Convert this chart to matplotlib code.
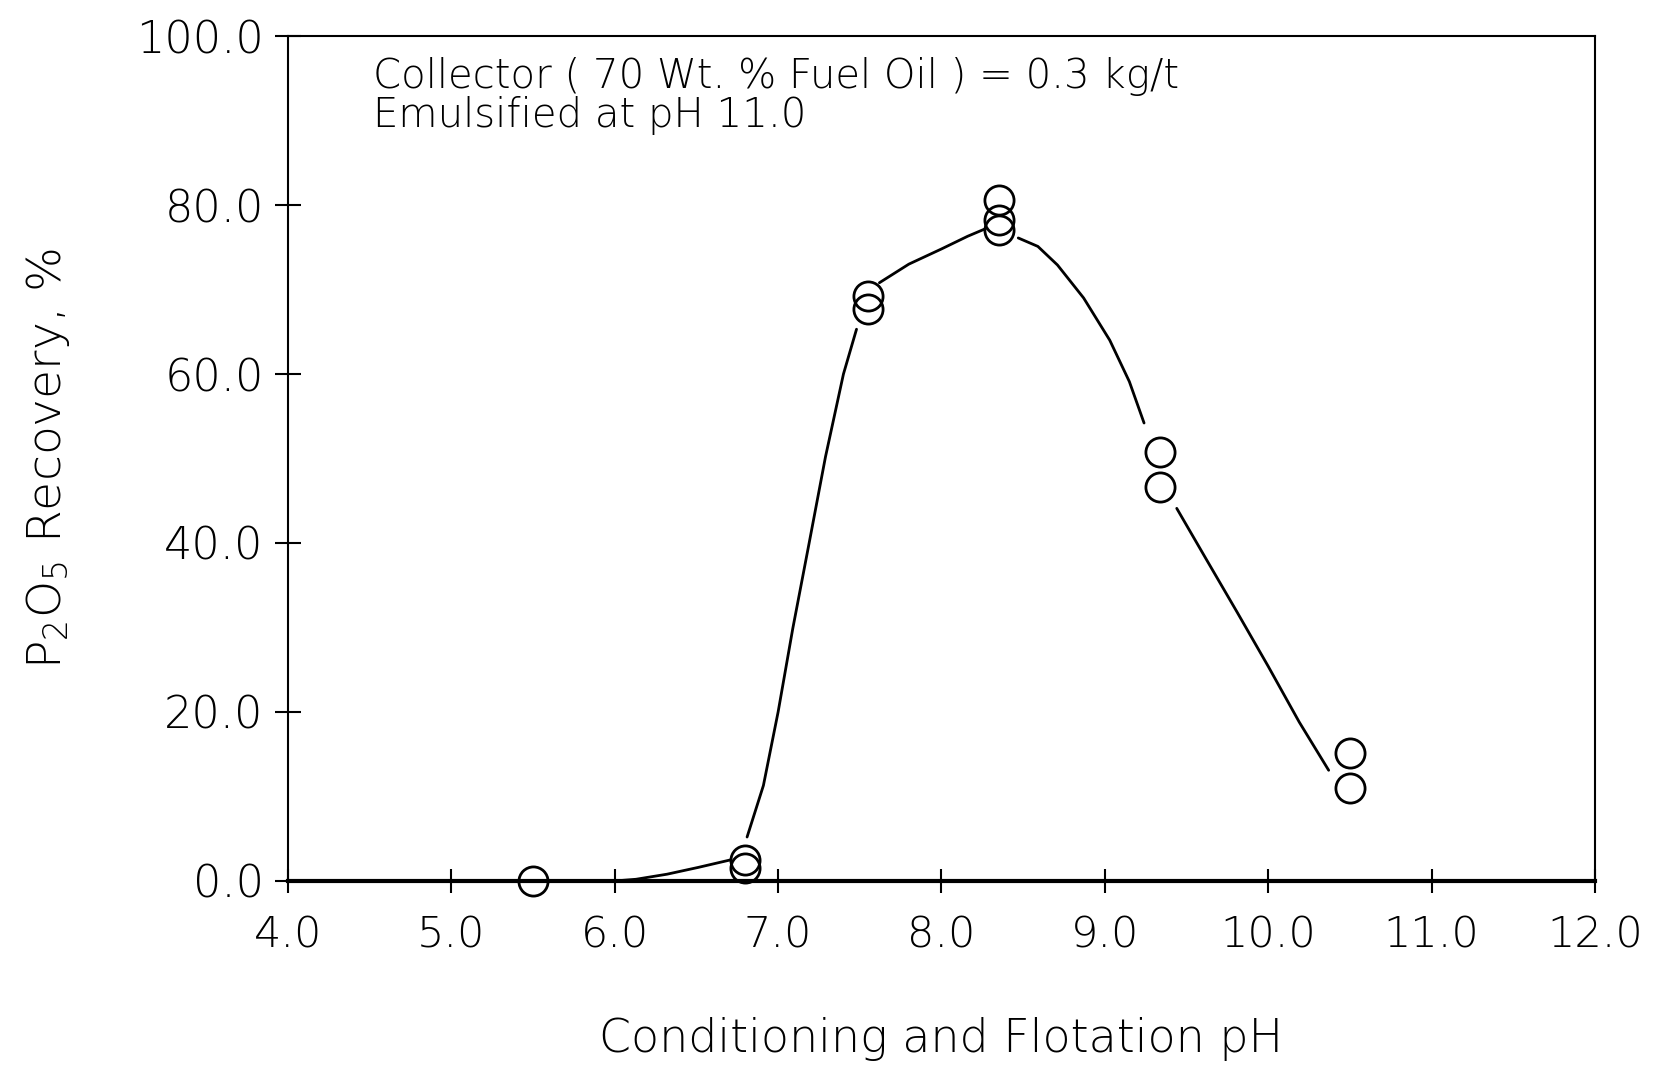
import numpy as np
import matplotlib
matplotlib.use("Agg")
import matplotlib.pyplot as plt

# ---- data ----
ph_points = [5.5, 6.8, 6.8, 7.55, 7.55, 8.35, 8.35, 8.35, 9.34, 9.34, 10.5, 10.5]
recovery_points = [0.0, 2.5, 1.5, 69.2, 67.7, 80.6, 78.2, 77.0, 50.8, 46.6, 15.2, 11.0]

# hand-drawn smooth curve (segments separated by NaN where it breaks at markers)
curve_ph = [6.0, 6.13, 6.32, 6.51, 6.71, np.nan,
            6.81, 6.91, 7.00, 7.09, 7.19, 7.29, 7.40, 7.48, np.nan,
            7.62, 7.80, 8.00, 8.16, 8.27, np.nan,
            8.47, 8.59, 8.71, 8.87, 9.03, 9.15, 9.24, np.nan,
            9.44, 9.62, 9.81, 10.00, 10.19, 10.37]
curve_rec = [0.0, 0.2, 0.8, 1.6, 2.5, np.nan,
             5.2, 11.3, 20.0, 29.9, 40.0, 50.2, 60.0, 65.3, np.nan,
             70.8, 73.0, 74.8, 76.3, 77.2, np.nan,
             76.1, 75.1, 72.9, 69.0, 64.0, 59.1, 54.2, np.nan,
             44.1, 38.1, 31.8, 25.4, 18.8, 13.1]

x_ticks = [4.0, 5.0, 6.0, 7.0, 8.0, 9.0, 10.0, 11.0, 12.0]
y_ticks = [0.0, 20.0, 40.0, 60.0, 80.0, 100.0]

note_lines = ["Collector ( 70 Wt. % Fuel Oil ) = 0.3 kg/t", "Emulsified at pH 11.0"]
x_label = "Conditioning and Flotation pH"
y_label = r"$\mathregular{P_2O_5}$ Recovery, %"

plt.rcParams['font.family'] = ['DejaVu Sans']
plt.rcParams['font.weight'] = 'light'
plt.rcParams['axes.labelweight'] = 'light'
plt.rcParams['mathtext.fontset'] = 'custom'
plt.rcParams['mathtext.rm'] = 'DejaVu Sans:light'

fig = plt.figure(figsize=(16.59, 10.69), dpi=100)
ax = fig.add_axes([0.1736, 0.1759, 0.9614 - 0.1736, 0.9663 - 0.1759])

ax.plot(curve_ph, curve_rec, color='black', lw=2.0, solid_capstyle='round',
        solid_joinstyle='round')
ax.plot(ph_points, recovery_points, linestyle='none', marker='o', markersize=21,
        markerfacecolor='none', markeredgecolor='black', markeredgewidth=2.0,
        clip_on=False)

ax.set_xlim(4.0, 12.0)
ax.set_ylim(0.0, 100.0)
ax.set_xticks(x_ticks)
ax.set_yticks(y_ticks)
ax.set_xticklabels([f"{v:.1f}" for v in x_ticks])
ax.set_yticklabels([f"{v:.1f}" for v in y_ticks])

ax.tick_params(axis='both', direction='inout', width=1.5, colors='black')
ax.tick_params(axis='x', length=17, pad=16, labelsize=31)
ax.tick_params(axis='y', length=19, pad=8, labelsize=32)

for side in ['left', 'right', 'top']:
    ax.spines[side].set_linewidth(1.5)
ax.spines['bottom'].set_linewidth(3.0)

ax.set_xlabel(x_label, fontsize=33, labelpad=44, fontweight='light')
ax.set_ylabel(y_label, fontsize=34, labelpad=46, fontweight='light')

ax.text(0.065, 0.975, "\n".join(note_lines), transform=ax.transAxes,
        fontsize=29, va='top', ha='left', linespacing=1.0, fontweight='light')

fig.savefig("out.png", dpi=100, facecolor='white')
